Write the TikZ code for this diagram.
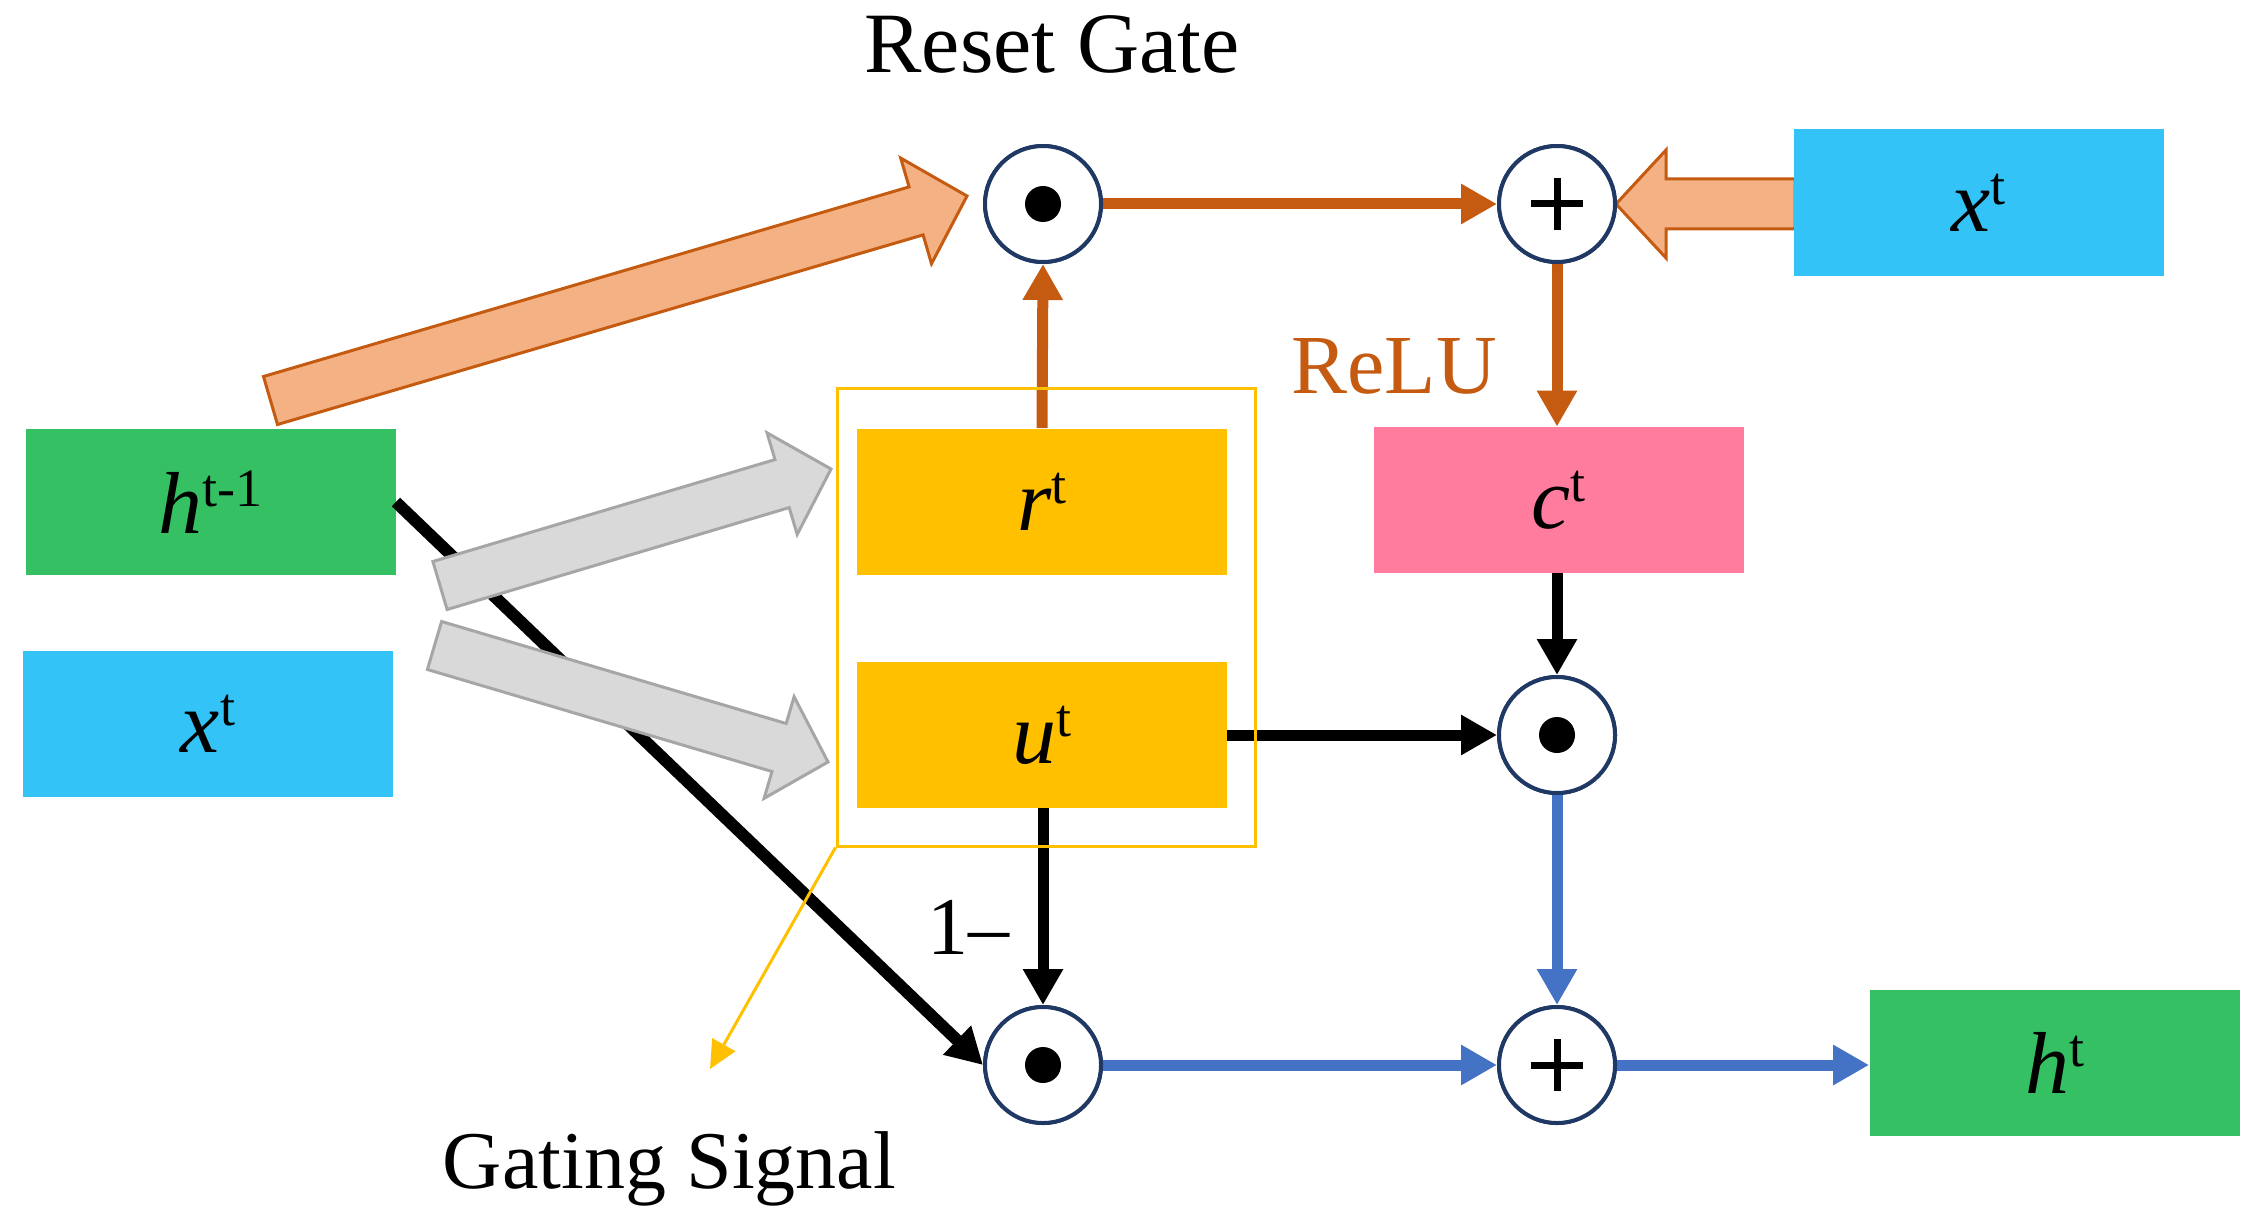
\documentclass[tikz,border=0pt]{standalone}
\usepackage{fontspec}
\setmainfont{Liberation Serif}
\usetikzlibrary{arrows.meta}
\definecolor{hgreen}{HTML}{35C063}
\definecolor{xblue}{HTML}{33C3F7}
\definecolor{gold}{HTML}{FFC000}
\definecolor{cpink}{HTML}{FF7C9F}
\definecolor{ofill}{HTML}{F4B183}
\definecolor{ostroke}{HTML}{C55A11}
\definecolor{gfill}{HTML}{D9D9D9}
\definecolor{gstroke}{HTML}{A6A6A6}
\definecolor{lblue}{HTML}{4472C4}
\definecolor{navy}{HTML}{1F3864}
\newcommand\vsym[2]{{\itshape #1}\raisebox{13.5pt}{\fontsize{27}{30}\selectfont #2}}
\begin{document}
\begin{tikzpicture}[x=0.5pt,y=-0.5pt,
  vbox/.style={minimum width=185pt,minimum height=73pt,inner sep=0pt,font=\fontsize{44}{50}\selectfont},
  opnode/.style={circle,draw=navy,line width=2pt,fill=white,minimum size=58pt,inner sep=0pt},
  conn/.style={line width=5.5pt,-{Triangle[length=18pt,width=19pt]}},
  oconn/.style={conn,draw=ostroke,color=ostroke},
  bconn/.style={conn,draw=black},
  lconn/.style={conn,draw=lblue,color=lblue},
  oarrow/.style={fill=ofill,draw=ostroke,line width=1.5pt,line join=miter},
  garrow/.style={fill=gfill,draw=gstroke,line width=1.5pt,line join=miter},
  lbl/.style={inner sep=0pt,anchor=base,font=\fontsize{43}{50}\selectfont},
  plusline/.style={line width=3.5pt,draw=black}
]
\useasboundingbox (0,0) rectangle (2262,1230);

% boxes
\node[vbox,fill=hgreen] (hprev) at (210.5,502) {\vsym{h}{t-1}};
\node[vbox,fill=xblue] (xl) at (208,723.5) {\vsym{x}{t}};
\node[vbox,fill=gold] (r) at (1042,501.5) {\vsym{r}{t}};
\node[vbox,fill=gold] (u) at (1042,735) {\vsym{u}{t}};
\node[vbox,fill=cpink] (c) at (1558.5,500) {\vsym{c}{t}};
\node[vbox,fill=hgreen] (ht) at (2054.5,1063) {\vsym{h}{t}};

% operator circles
\node[opnode] (O1) at (1043,204) {};
\node[opnode] (O2) at (1557,204) {};
\node[opnode] (O3) at (1557,735) {};
\node[opnode] (O4) at (1557,1065) {};
\node[opnode] (O5) at (1043,1065) {};

% black diagonal h^{t-1} -> O5
\draw[bconn,line width=6pt] (hprev.east) -- (O5.west);

% grey block arrows
\filldraw[garrow] (432.9,561.5) -- (775.0,459.6) -- (767.0,432.8) -- (831,469) -- (797.2,534.4) -- (789.2,507.6) -- (447.1,609.5) -- cycle;
\filldraw[garrow] (441.6,621.5) -- (786.2,723.5) -- (794.1,696.7) -- (828,762) -- (764.1,798.3) -- (772.0,771.5) -- (427.4,669.5) -- cycle;

% orange block arrows
\filldraw[oarrow] (277.5,424.5) -- (263.5,376.5) -- (909.1,186.9) -- (900.7,158.1) -- (967,196) -- (931.5,263.7) -- (923.1,234.9) -- cycle;
\filldraw[oarrow] (1795,179) -- (1666,179) -- (1666,150) -- (1616,204) -- (1666,258) -- (1666,229) -- (1795,229) -- cycle;
\node[vbox,fill=xblue] (xr) at (1978.5,202.5) {\vsym{x}{t}};

% connectors
\draw[oconn] (r.north) -- (O1.south);
\draw[oconn] (O1.east) -- (O2.west);
\draw[oconn] (O2.south) -- (O2.south |- c.north);
\draw[bconn] (c.south -| O3) -- (O3.north);
\draw[bconn] (u.east) -- (O3.west);
\draw[bconn] (u.south -| O5) -- (O5.north);
\draw[lconn] (O3.south) -- (O4.north);
\draw[lconn] (O5.east) -- (O4.west);
\draw[lconn] (O4.east) -- (O4.east -| ht.west);

% gating box
\node[draw=gold,line width=1.5pt,minimum width=209pt,minimum height=229pt,inner sep=0pt] (gate) at (1046,617) {};
\coordinate (gs) at (710,1069);
\draw[gold,line width=1.5pt,-{Triangle[length=14pt,width=13pt]}] (gate.south west) -- (gs);

% redraw circles on top
\foreach \n in {O1,O2,O3,O4,O5} {\draw[navy,line width=2pt,fill=white] (\n) circle[radius=29pt];}
\foreach \n in {O1,O3,O5} {\fill (\n) circle[radius=9pt];}
\foreach \n in {O2,O4} {\draw[plusline] (\n) ++(-26,0) -- ++(52,0); \draw[plusline] (\n) ++(0,-26) -- ++(0,52);}

% labels
\node[lbl] (reset) at (1052,73) {Reset Gate};
\node[lbl,text=ostroke,font=\fontsize{42}{50}\selectfont] (relu) at (1394,393) {ReLU};
\node[lbl,font=\fontsize{41}{50}\selectfont] (gating) at (669.5,1188) {Gating Signal};
\node[lbl,anchor=base west,font=\fontsize{41}{50}\selectfont] (onem) at (927,954) {1–};
\end{tikzpicture}
\end{document}
